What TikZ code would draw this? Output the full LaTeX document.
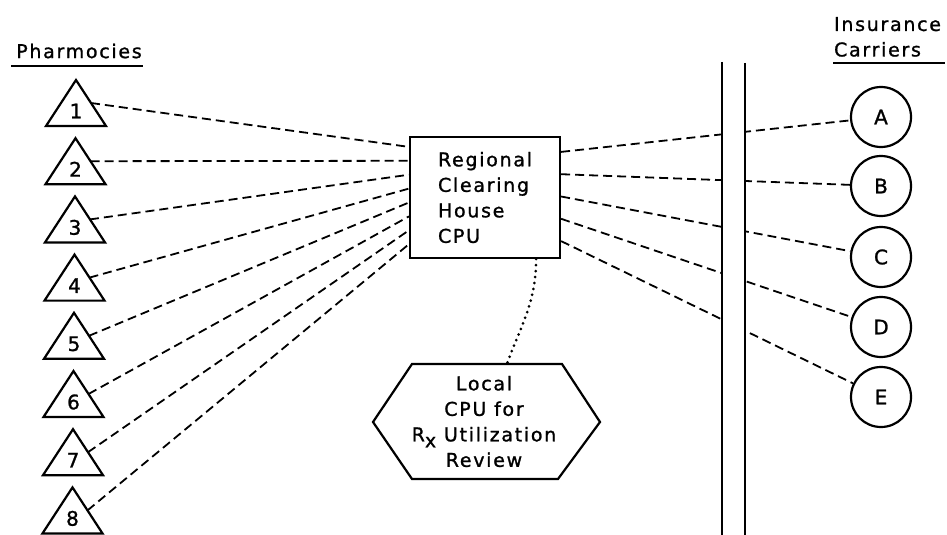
\documentclass[tikz,border=0pt]{standalone}
\usepackage{fontspec}
\setmainfont[LetterSpace=9, FakeBold=1.2]{DejaVu Sans}
\newfontfamily\plainsans[FakeBold=1.2]{DejaVu Sans}
\usetikzlibrary{calc}

\begin{document}
\begin{tikzpicture}[x=1pt, y=-1pt, line width=2.2pt,
  font=\fontsize{19}{25.5}\selectfont,
  tag/.style={font=\fontsize{20}{25.5}\selectfont\plainsans},
  link/.style={line width=1.8pt, dash pattern=on 9pt off 5pt},
  carrier/.style={draw, circle, minimum size=60pt, inner sep=0pt, tag}]
\useasboundingbox (0,0) rectangle (947,535);

% Pharmacies
\node[inner sep=0pt] (pharm) at (79,51) {Pharmocies};
\draw ($(pharm.base west)+(-4,8)$) -- ($(pharm.base east)+(0,8)$);
\foreach \i in {1,...,8} {
  \coordinate (tri\i) at ({76-0.5*(\i-1)}, {80+58.2*(\i-1)});
  \draw (tri\i) -- ++(30,46) -- ++(-60,0) -- cycle;
  \node[tag] (num\i) at ($(tri\i)+(0,31)$) {\i};
  \coordinate (tri\i-r) at ($(tri\i)+(15,23)$);
}

% Clearing house
\node[draw, minimum width=150pt, minimum height=121pt, align=left] (rch) at (485,197.5)
  {Regional\\Clearing\\House\\CPU};
\foreach \i in {1,...,8}
  \draw[link] (tri\i-r) -- ($(rch.north west)+(0,{11+13.9*(\i-1)})$);

% Carriers
\node[inner sep=0pt, align=left, anchor=north west] (ins) at (833,16) {Insurance\\Carriers};
\draw (833,63) -- (945,63);
\foreach \c/\y in {A/117, B/186, C/257, D/327, E/397}
  \node[carrier] (car\c) at (881,\y) {\c};
\foreach \c [count=\k] in {A, B, C, D, E}
  \draw[link] ($(rch.north east)+(0,{16+22.3*(\k-1)})$) -- (car\c);

% Channel
\fill[white] (721,60) rectangle (746,535);
\draw (722,62) -- (722,535);
\draw (745,63) -- (745,535);

% Local CPU
\draw (412,364) -- (562,364) -- (600,422) -- (558,479) -- (412,479) -- (373,422) -- cycle;
\node[align=center] (rev) at (484,421.5)
  {Local\\CPU for\\R\raisebox{-6pt}{x} Utilization\\Review};
\coordinate (rch-low) at ($(rch.south east)+(-25,0)$);
\coordinate (rev-top) at (507,364);
\draw[line width=3pt, line cap=round, dash pattern=on 0pt off 6pt] (rch-low) .. controls +(0,45) and +(12,-35) .. (rev-top);
\end{tikzpicture}
\end{document}
